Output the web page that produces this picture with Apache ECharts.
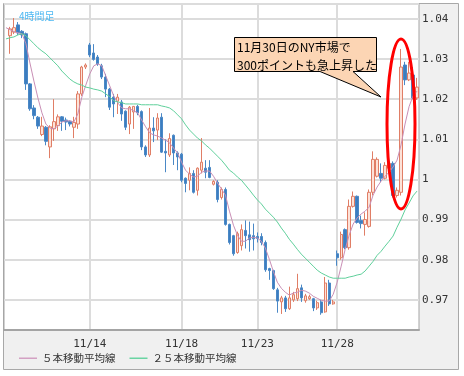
<!DOCTYPE html>
<html><head><meta charset="utf-8">
<script src="https://cdn.jsdelivr.net/npm/echarts@6/dist/echarts.min.js"></script>
<style>html,body{margin:0;padding:0;background:#fff}#c{width:464px;height:376px}</style>
</head><body><div id="c"></div>
<script>
// 4-hour candles (index 0 is an empty slot at the left edge)
const opens = [null,
1.0358,1.0367,1.0385,1.0369,1.0363,1.0238,1.0178,1.0155,1.0112,1.0130,
1.0081,1.0126,1.0134,1.0156,1.0148,1.0145,1.0130,1.0138,1.0213,1.0280,
1.0335,1.0315,1.0305,1.0283,1.0255,1.0225,1.0205,1.0195,1.0193,1.0170,
1.0138,1.0168,1.0182,1.0169,1.0081,1.0061,1.0128,1.0123,1.0155,1.0070,
1.0061,1.0110,1.0066,1.0063,1.0003,0.9998,1.0015,0.9973,1.0023,1.0028,
1.0030,0.9988,0.9993,0.9955,0.9975,0.9888,0.9860,0.9818,0.9835,0.9873,
0.9862,0.9860,0.9858,0.9858,0.9843,0.9778,0.9773,0.9725,0.9695,0.9705,
0.9678,0.9700,0.9703,0.9730,0.9698,0.9703,0.9703,0.9680,0.9695,0.9670,
0.9742,0.9690,0.9815,0.9805,0.9875,0.9830,0.9933,0.9958,0.9898,0.9888,
0.9883,0.9968,1.0008,1.0015,1.0003,1.0028,1.0040,0.9960,0.9968,1.0285,
1.0248,1.0260,1.0203];
const closes = [null,
1.0375,1.0378,1.0365,1.0360,1.0238,1.0176,1.0159,1.0133,1.0133,1.0095,
1.0131,1.0144,1.0156,1.0145,1.0143,1.0138,1.0142,1.0213,1.0280,1.0285,
1.0310,1.0299,1.0288,1.0255,1.0225,1.0180,1.0188,1.0205,1.0163,1.0130,
1.0180,1.0182,1.0166,1.0081,1.0061,1.0128,1.0121,1.0153,1.0068,1.0066,
1.0102,1.0066,1.0056,0.9998,0.9990,1.0015,0.9968,1.0028,1.0043,1.0018,
1.0005,0.9995,0.9950,0.9975,0.9888,0.9843,0.9815,0.9865,0.9875,0.9860,
0.9850,0.9852,0.9853,0.9843,0.9775,0.9773,0.9728,0.9697,0.9705,0.9678,
0.9705,0.9713,0.9728,0.9705,0.9710,0.9708,0.9680,0.9693,0.9668,0.9742,
0.9690,0.9695,0.9805,0.9863,0.9830,0.9933,0.9958,0.9893,0.9890,0.9900,
0.9968,1.0050,1.0050,1.0003,1.0035,1.0040,0.9960,0.9973,1.0280,1.0248,
1.0265,1.0203,1.0230];
const lows = [null,
1.0313,1.0362,1.0360,1.0352,1.0223,1.0171,1.0150,1.0126,1.0108,1.0085,
1.0053,1.0096,1.0121,1.0121,1.0123,1.0132,1.0103,1.0126,1.0208,1.0275,
1.0305,1.0296,1.0283,1.0250,1.0205,1.0173,1.0155,1.0163,1.0146,1.0123,
1.0113,1.0126,1.0160,1.0073,1.0056,1.0056,1.0093,1.0098,1.0066,1.0018,
1.0056,1.0036,1.0023,0.9993,0.9968,0.9973,0.9965,0.9960,1.0015,1.0003,
1.0003,0.9985,0.9943,0.9950,0.9885,0.9838,0.9810,0.9815,0.9823,0.9828,
0.9820,0.9823,0.9843,0.9836,0.9770,0.9750,0.9725,0.9668,0.9665,0.9670,
0.9675,0.9695,0.9697,0.9695,0.9693,0.9700,0.9672,0.9675,0.9663,0.9668,
0.9685,0.9688,0.9785,0.9800,0.9826,0.9825,0.9930,0.9890,0.9878,0.9860,
0.9880,0.9960,1.0005,0.9993,1.0000,1.0025,0.9955,0.9955,0.9960,1.0235,
1.0245,1.0200,1.0198];
const highs = [null,
1.0380,1.0402,1.0392,1.0372,1.0366,1.0240,1.0185,1.0158,1.0156,1.0133,
1.0135,1.0200,1.0162,1.0158,1.0154,1.0147,1.0156,1.0220,1.0283,1.0289,
1.0340,1.0337,1.0310,1.0288,1.0263,1.0228,1.0213,1.0213,1.0198,1.0172,
1.0183,1.0183,1.0186,1.0172,1.0085,1.0178,1.0155,1.0165,1.0165,1.0100,
1.0115,1.0112,1.0070,1.0066,1.0005,1.0030,1.0023,1.0030,1.0103,1.0048,
1.0048,0.9998,0.9998,0.9980,0.9980,0.9890,0.9862,0.9870,0.9888,0.9898,
0.9895,0.9890,0.9868,0.9866,0.9848,0.9780,0.9775,0.9730,0.9710,0.9710,
0.9733,0.9720,0.9765,0.9738,0.9715,0.9713,0.9705,0.9698,0.9700,0.9757,
0.9750,0.9700,0.9823,0.9870,0.9878,0.9950,0.9970,0.9960,0.9910,0.9918,
0.9975,1.0070,1.0055,1.0040,1.0043,1.0045,1.0045,0.9980,1.0325,1.0293,
1.0293,1.0280,1.0253];
// moving averages
const ma5 = [
1.0378,1.0373,1.0368,1.0365,1.0363,1.0338,1.0290,1.0245,1.0203,1.0166,
1.0138,1.0128,1.0126,1.0133,1.0143,1.0146,1.0146,1.0143,1.0163,1.0205,
1.0235,1.0263,1.0283,1.0288,1.0283,1.0258,1.0233,1.0208,1.0191,1.0178,
1.0176,1.0176,1.0171,1.0166,1.0148,1.0131,1.0116,1.0111,1.0108,1.0103,
1.0098,1.0091,1.0078,1.0066,1.0043,1.0023,1.0013,1.0006,1.0008,1.0018,
1.0021,1.0021,1.0008,0.9991,0.9976,0.9961,0.9921,0.9886,0.9861,0.9846,
0.9846,0.9854,0.9856,0.9854,0.9846,0.9829,0.9801,0.9771,0.9744,0.9729,
0.9719,0.9712,0.9717,0.9719,0.9724,0.9722,0.9717,0.9709,0.9704,0.9699,
0.9697,0.9697,0.9714,0.9744,0.9784,0.9826,0.9861,0.9889,0.9904,0.9914,
0.9921,0.9931,0.9961,0.9981,0.9996,1.0008,1.0018,1.0031,1.0048,1.0086,
1.0138,1.0181,1.0208,1.0220];
const ma25 = [
1.0350,1.0353,1.0355,1.0360,1.0363,1.0358,1.0348,1.0338,1.0328,1.0320,
1.0313,1.0303,1.0293,1.0283,1.0270,1.0260,1.0250,1.0243,1.0238,1.0235,
1.0230,1.0228,1.0225,1.0223,1.0220,1.0213,1.0206,1.0196,1.0193,1.0191,
1.0188,1.0188,1.0188,1.0188,1.0186,1.0186,1.0186,1.0186,1.0186,1.0183,
1.0181,1.0178,1.0171,1.0161,1.0151,1.0136,1.0123,1.0113,1.0103,1.0096,
1.0086,1.0078,1.0068,1.0058,1.0048,1.0036,1.0023,1.0016,1.0006,0.9998,
0.9986,0.9974,0.9961,0.9949,0.9939,0.9926,0.9916,0.9906,0.9894,0.9879,
0.9866,0.9851,0.9839,0.9826,0.9814,0.9804,0.9794,0.9784,0.9774,0.9767,
0.9762,0.9757,0.9754,0.9754,0.9754,0.9754,0.9757,0.9759,0.9762,0.9764,
0.9772,0.9784,0.9796,0.9811,0.9821,0.9834,0.9846,0.9859,0.9881,0.9901,
0.9924,0.9941,0.9959,0.9971];
// x tick labels: candle index and text
const tickIndex = [21, 44, 63, 83];
const tickText = ['11/14', '11/18', '11/23', '11/28'];
const seriesNames = ['５本移動平均線', '２５本移動平均線'];

const categories = opens.map((_, i) => String(i));
const candleData = opens.map((o, i) => o == null ? '-' : [o, closes[i], lows[i], highs[i]]);
const isTick = (i) => tickIndex.indexOf(i) >= 0;

const chart = echarts.init(document.getElementById('c'), null, {renderer: 'canvas'});
chart.setOption({
  animation: false,
  backgroundColor: 'transparent',
  title: {text: '4時間足', left: 14, top: 6, textStyle: {fontSize: 10, color: '#4db8f2', fontWeight: 'normal', fontFamily: 'Noto Sans CJK JP'}},
  grid: {left: 4, right: 45, top: 4, bottom: 46, show: true, backgroundColor: '#fff', borderColor: '#a4a4a4', borderWidth: 1},
  legend: {
    data: seriesNames, left: 14, top: 348, icon: 'rect', itemWidth: 18, itemHeight: 1.5, itemGap: 14,
    textStyle: {fontSize: 10.5, color: '#333', fontFamily: 'Noto Sans CJK JP'}
  },
  xAxis: {
    type: 'category', data: categories, boundaryGap: true,
    axisLine: {show: true, lineStyle: {color: '#a4a4a4', width: 2}},
    axisTick: {show: false},
    axisLabel: {interval: (i) => isTick(i), formatter: (v) => tickText[tickIndex.indexOf(Number(v))],
      margin: 9, color: '#333', fontFamily: 'DejaVu Sans Mono', fontSize: 11},
    splitLine: {show: true, interval: (i) => isTick(i), alignWithLabel: true, lineStyle: {color: '#dcdcdc', width: 2}}
  },
  yAxis: {
    type: 'value', position: 'right', min: 0.9625, max: 1.0437, splitNumber: 8,
    axisLine: {show: false}, axisTick: {show: false},
    axisLabel: {showMinLabel: false, showMaxLabel: false, margin: 3, color: '#333', fontFamily: 'DejaVu Sans Mono', fontSize: 11},
    splitLine: {lineStyle: {color: '#dcdcdc', width: 2}}
  },
  series: [
    {type: 'candlestick', data: candleData, barWidth: '72%',
     itemStyle: {color: '#fde2d8', color0: '#3c7dc0', borderColor: '#e07e66', borderColor0: '#4a88c6', borderWidth: 1}},
    {type: 'line', name: seriesNames[0], data: ma5, showSymbol: false, symbol: 'none',
     lineStyle: {color: '#c98fb6', width: 1}, itemStyle: {color: '#d3a1c3'}},
    {type: 'line', name: seriesNames[1], data: ma25, showSymbol: false, symbol: 'none',
     lineStyle: {color: '#5fd09b', width: 1}, itemStyle: {color: '#6ad4a3'}}
  ],
  graphic: [
    {type: 'rect', z: -5, silent: true, shape: {x: 3.5, y: 3.5, width: 455, height: 366},
     style: {fill: '#f0f0f0', stroke: '#a8a8a8', lineWidth: 1}},
    {type: 'polygon', z: 100, silent: true,
     shape: {points: [[234.5, 37.5], [376.5, 37.5], [376.5, 71.5], [353, 71.5], [381, 97], [320, 71.5], [234.5, 71.5]]},
     style: {fill: '#fcd5b4', stroke: '#000', lineWidth: 1}},
    {type: 'text', z: 101, silent: true,
     style: {text: '11月30日のNY市場で\n300ポイントも急上昇した', x: 237, y: 38, fontSize: 12, lineHeight: 18,
             fontFamily: 'Noto Sans CJK JP', fill: '#000'}},
    {type: 'ellipse', z: 102, silent: true, shape: {cx: 401, cy: 124, rx: 14, ry: 85},
     style: {fill: 'none', stroke: '#ff0000', lineWidth: 3}}
  ]
});
</script></body></html>
